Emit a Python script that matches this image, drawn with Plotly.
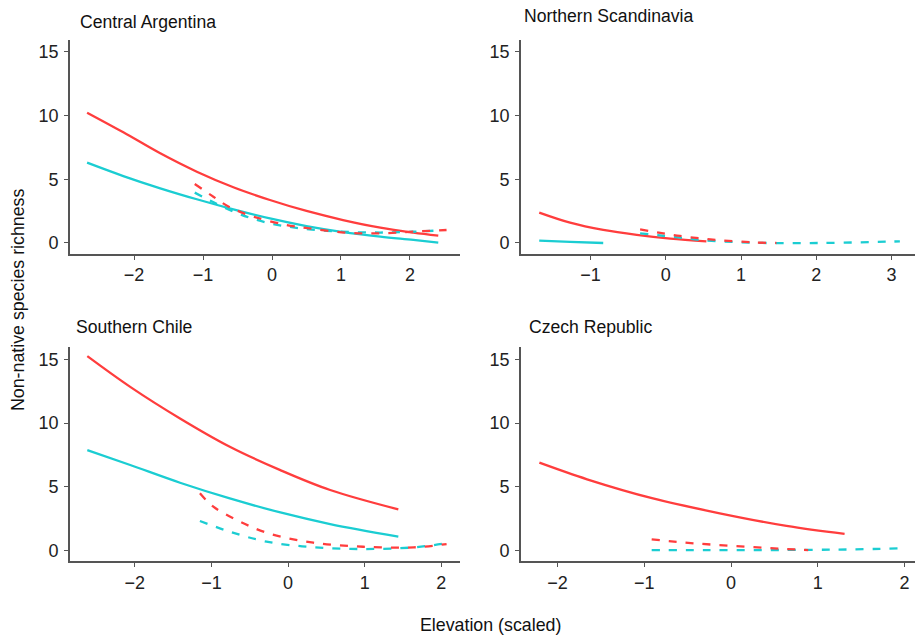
import plotly.graph_objects as go

RED = "#FF3D3D"
CYAN = "#1BCDD2"

panel_titles = ["Central Argentina", "Northern Scandinavia", "Southern Chile", "Czech Republic"]
x_ticks = [[-2, -1, 0, 1, 2], [-1, 0, 1, 2, 3], [-2, -1, 0, 1, 2], [-2, -1, 0, 1, 2]]
y_ticks = [0, 5, 10, 15]

# Central Argentina
ca_red_solid_x = [-2.68, -2.155, -1.62, -1.09, -0.56, -0.03, 0.50, 1.03, 1.57, 2.05, 2.41]
ca_red_solid_y = [10.22, 8.68, 7.03, 5.59, 4.37, 3.37, 2.51, 1.80, 1.20, 0.81, 0.57]
ca_cyan_solid_x = [-2.68, -2.155, -1.62, -1.09, -0.56, -0.03, 0.50, 1.03, 1.57, 2.05, 2.41]
ca_cyan_solid_y = [6.30, 5.25, 4.29, 3.43, 2.64, 1.93, 1.33, 0.86, 0.50, 0.24, 0.03]
ca_red_dash_x = [-1.12, -0.85, -0.61, -0.27, 0.21, 0.60, 1.08, 1.57, 2.05, 2.53]
ca_red_dash_y = [4.63, 3.63, 2.80, 2.07, 1.41, 1.10, 0.81, 0.76, 0.89, 1.02]
ca_cyan_dash_x = [-1.12, -0.56, -0.08, 0.41, 0.99, 1.57, 2.05, 2.41]
ca_cyan_dash_y = [3.95, 2.46, 1.60, 1.15, 0.89, 0.82, 0.88, 0.98]

# Northern Scandinavia
ns_red_solid_x = [-1.68, -1.27, -0.83, -0.385, 0.06, 0.54]
ns_red_solid_y = [2.38, 1.59, 1.02, 0.63, 0.34, 0.13]
ns_cyan_solid_x = [-1.68, -1.27, -0.83]
ns_cyan_solid_y = [0.18, 0.08, 0.0]
ns_red_dash_x = [-0.34, 0.19, 0.68, 1.16, 1.47]
ns_red_dash_y = [1.07, 0.55, 0.24, 0.05, 0.0]
ns_cyan_dash_x = [-0.34, 0.19, 0.46, 1.16, 2.05, 2.93, 3.11]
ns_cyan_dash_y = [0.76, 0.42, 0.24, 0.02, 0.0, 0.10, 0.13]

# Southern Chile
sc_red_solid_x = [-2.62, -2.06, -1.41, -0.76, -0.10, 0.55, 1.44]
sc_red_solid_y = [15.26, 12.85, 10.37, 8.15, 6.32, 4.76, 3.24]
sc_cyan_solid_x = [-2.62, -2.06, -1.41, -0.76, -0.10, 0.55, 1.44]
sc_cyan_solid_y = [7.89, 6.72, 5.33, 4.10, 3.00, 2.09, 1.10]
sc_red_dash_x = [-1.15, -0.975, -0.67, -0.28, 0.33, 0.98, 1.64, 2.07]
sc_red_dash_y = [4.50, 3.45, 2.41, 1.41, 0.63, 0.31, 0.26, 0.52]
sc_cyan_dash_x = [-1.15, -0.76, -0.28, 0.33, 0.98, 1.64, 2.07]
sc_cyan_dash_y = [2.33, 1.49, 0.71, 0.27, 0.13, 0.26, 0.58]

# Czech Republic
cz_red_solid_x = [-2.21, -1.66, -0.90, -0.13, 0.64, 1.31]
cz_red_solid_y = [6.90, 5.60, 4.10, 2.93, 1.94, 1.31]
cz_red_dash_x = [-0.915, -0.43, 0.18, 0.64, 0.89]
cz_red_dash_y = [0.89, 0.58, 0.31, 0.13, 0.05]
cz_cyan_dash_x = [-0.915, -0.30, 0.40, 0.95, 1.41, 1.95]
cz_cyan_dash_y = [0.05, 0.05, 0.05, 0.07, 0.10, 0.19]

panels = [
    [(ca_cyan_solid_x, ca_cyan_solid_y, CYAN, "solid"), (ca_red_solid_x, ca_red_solid_y, RED, "solid"),
     (ca_cyan_dash_x, ca_cyan_dash_y, CYAN, "dash"), (ca_red_dash_x, ca_red_dash_y, RED, "dash")],
    [(ns_cyan_solid_x, ns_cyan_solid_y, CYAN, "solid"), (ns_red_solid_x, ns_red_solid_y, RED, "solid"),
     (ns_cyan_dash_x, ns_cyan_dash_y, CYAN, "dash"), (ns_red_dash_x, ns_red_dash_y, RED, "dash")],
    [(sc_cyan_solid_x, sc_cyan_solid_y, CYAN, "solid"), (sc_red_solid_x, sc_red_solid_y, RED, "solid"),
     (sc_cyan_dash_x, sc_cyan_dash_y, CYAN, "dash"), (sc_red_dash_x, sc_red_dash_y, RED, "dash")],
    [(cz_red_solid_x, cz_red_solid_y, RED, "solid"),
     (cz_cyan_dash_x, cz_cyan_dash_y, CYAN, "dash"), (cz_red_dash_x, cz_red_dash_y, RED, "dash")],
]

W, H = 915, 636
x_domains_px = [(70, 460), (521, 915), (70, 460), (521, 915)]
y_domains_px = [(39.6, 253.7), (39.6, 253.7), (347.3, 561.4), (347.3, 561.4)]
x_ranges = [[-2.928, 2.725], [-1.922, 3.311], [-2.846, 2.245], [-2.422, 2.122]]
y_range = [-0.84, 15.95]
title_pos = [(78, 22), (522, 16), (74, 327), (527, 327)]

FONT = "Liberation Sans, Arial, sans-serif"
fig = go.Figure()
layout = dict(
    width=W, height=H, margin=dict(l=0, r=0, t=0, b=0),
    paper_bgcolor="white", plot_bgcolor="white", showlegend=False,
    font=dict(family=FONT, size=18, color="#222222"),
)
annotations = []
for i, traces in enumerate(panels):
    sfx = "" if i == 0 else str(i + 1)
    for (xs, ys, col, dash) in traces:
        fig.add_trace(go.Scatter(
            x=xs, y=ys, mode="lines", xaxis="x" + sfx, yaxis="y" + sfx,
            line=dict(color=col, width=2.3, dash="solid" if dash == "solid" else "8px,9px",
                      shape="spline", smoothing=1.0),
            hoverinfo="skip"))
    x0, x1 = x_domains_px[i]
    y0, y1 = y_domains_px[i]
    common = dict(showgrid=False, zeroline=False, showline=True, linecolor="#555555", linewidth=1.6,
                  ticks="outside", ticklen=4, tickwidth=1.3, tickcolor="#555555",
                  tickfont=dict(family=FONT, size=18, color="#222222"))
    layout["xaxis" + sfx] = dict(common, domain=[x0 / W, x1 / W], range=x_ranges[i],
                                 tickvals=x_ticks[i], anchor="y" + sfx, ticklabelstandoff=0)
    layout["yaxis" + sfx] = dict(common, domain=[1 - y1 / H, 1 - y0 / H], range=y_range,
                                 tickvals=y_ticks, anchor="x" + sfx, ticklabelstandoff=2)
    tx, ty = title_pos[i]
    annotations.append(dict(text=panel_titles[i], x=tx / W, y=1 - ty / H, xref="paper", yref="paper",
                            xanchor="left", yanchor="middle", showarrow=False,
                            font=dict(family=FONT, size=17.6, color="#111111")))

annotations.append(dict(text="Elevation (scaled)", x=491 / W, y=1 - 625 / H, xref="paper", yref="paper",
                        xanchor="center", yanchor="middle", showarrow=False,
                        font=dict(family=FONT, size=17.8, color="#111111")))
annotations.append(dict(text="Non-native species richness", x=18 / W, y=1 - 300 / H, xref="paper", yref="paper",
                        xanchor="center", yanchor="middle", showarrow=False, textangle=-90,
                        font=dict(family=FONT, size=17.8, color="#111111")))
layout["annotations"] = annotations
fig.update_layout(**layout)
fig.write_html("out.html", config={"displayModeBar": False},
               post_script="document.body.style.margin='0';document.body.style.overflow='hidden';")
